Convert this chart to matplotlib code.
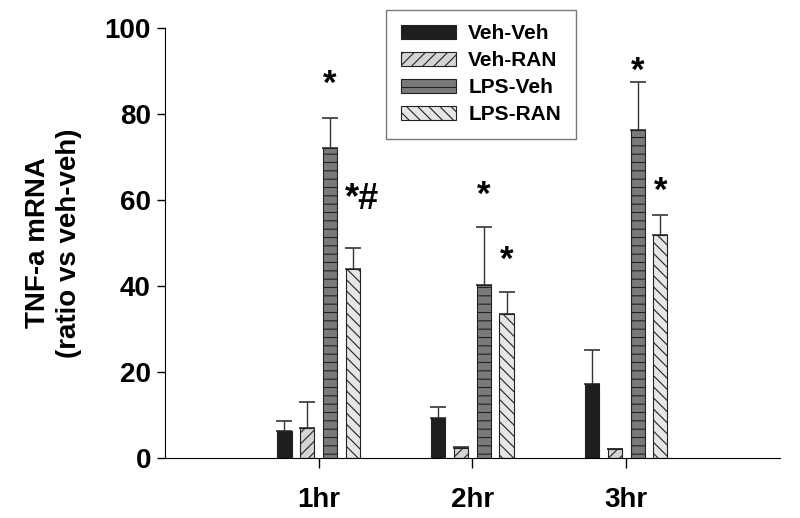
import matplotlib
matplotlib.use('Agg')
import numpy as np
import matplotlib.pyplot as plt

plt.rcParams['font.family'] = ['Liberation Sans', 'DejaVu Sans']
plt.rcParams['font.weight'] = 'bold'
plt.rcParams['hatch.linewidth'] = 0.8

groups = ['1hr', '2hr', '3hr']
series = ['Veh-Veh', 'Veh-RAN', 'LPS-Veh', 'LPS-RAN']
veh_veh = [6.2, 9.3, 17.3]
veh_ran = [7.0, 2.2, 2.0]
lps_veh = [72.0, 40.3, 76.3]
lps_ran = [44.0, 33.5, 51.8]
err_veh_veh = [2.5, 2.5, 7.9]
err_veh_ran = [6.0, 0.4, 0.0]
err_lps_veh = [7.0, 13.4, 11.2]
err_lps_ran = [4.8, 5.0, 4.7]

# markers above bars: (group, series index, text, y)
marks = [(0, 2, '*', 87), (0, 3, '*#', 60), (1, 2, '*', 61),
         (1, 3, '*', 46), (2, 2, '*', 90), (2, 3, '*', 62)]

values = [veh_veh, veh_ran, lps_veh, lps_ran]
errors = [err_veh_veh, err_veh_ran, err_lps_veh, err_lps_ran]
faces = ['#1e1e1e', '#d4d4d4', '#7a7a7a', '#e6e6e6']
hatches = [None, '///', '--', '\\\\\\']

fig = plt.figure(figsize=(8, 5.18), dpi=100)
ax = fig.add_axes([0.206, 0.116, 0.769, 0.83])

x = np.arange(1, len(groups) + 1)
step = 0.148
width = 0.092
for i in range(4):
    pos = x + (i - 1.5) * step
    ax.bar(pos, values[i], width, color=faces[i], edgecolor='#222222',
           linewidth=0.8, hatch=hatches[i], label=series[i], zorder=2)
    errs = np.array(errors[i])
    ax.errorbar(pos, values[i], yerr=[np.zeros_like(errs), errs], fmt='none',
                ecolor='#333333', elinewidth=1, capsize=6, capthick=1.2, zorder=1)

for g, s, txt, yv in marks:
    xpos = x[g] + (s - 1.5) * step
    ax.text(xpos + (0.06 if txt == '*#' else 0), yv, txt, ha='center', va='center',
            fontsize=26 if txt == '*#' else 25, fontweight='bold')

ax.set_xlim(0, 4)
ax.set_ylim(0, 100)
ax.set_xticks(x)
ax.set_xticklabels(groups, fontsize=20, fontweight='bold')
ax.set_yticks(np.arange(0, 101, 20))
ax.tick_params(axis='y', labelsize=20, direction='out', length=6, width=1, pad=4)
ax.tick_params(axis='x', direction='out', length=7, width=1, pad=14)
for lab in ax.get_yticklabels():
    lab.set_fontweight('bold')
ax.spines['top'].set_visible(False)
ax.spines['right'].set_visible(False)
ax.set_ylabel('TNF-a mRNA\n(ratio vs veh-veh)', fontsize=20, fontweight='bold',
              labelpad=16, linespacing=1.25)

leg = ax.legend(loc='upper left', bbox_to_anchor=(0.4825, 0.981),
                bbox_transform=fig.transFigure, fontsize=15,
                frameon=True, fancybox=False, edgecolor='#555555',
                handlelength=2.65, handleheight=0.63, borderpad=0.7,
                labelspacing=0.38, handletextpad=0.6, borderaxespad=0)
leg.get_frame().set_linewidth(1)
for t in leg.get_texts():
    t.set_fontweight('bold')

fig.savefig('out.png', dpi=100)
